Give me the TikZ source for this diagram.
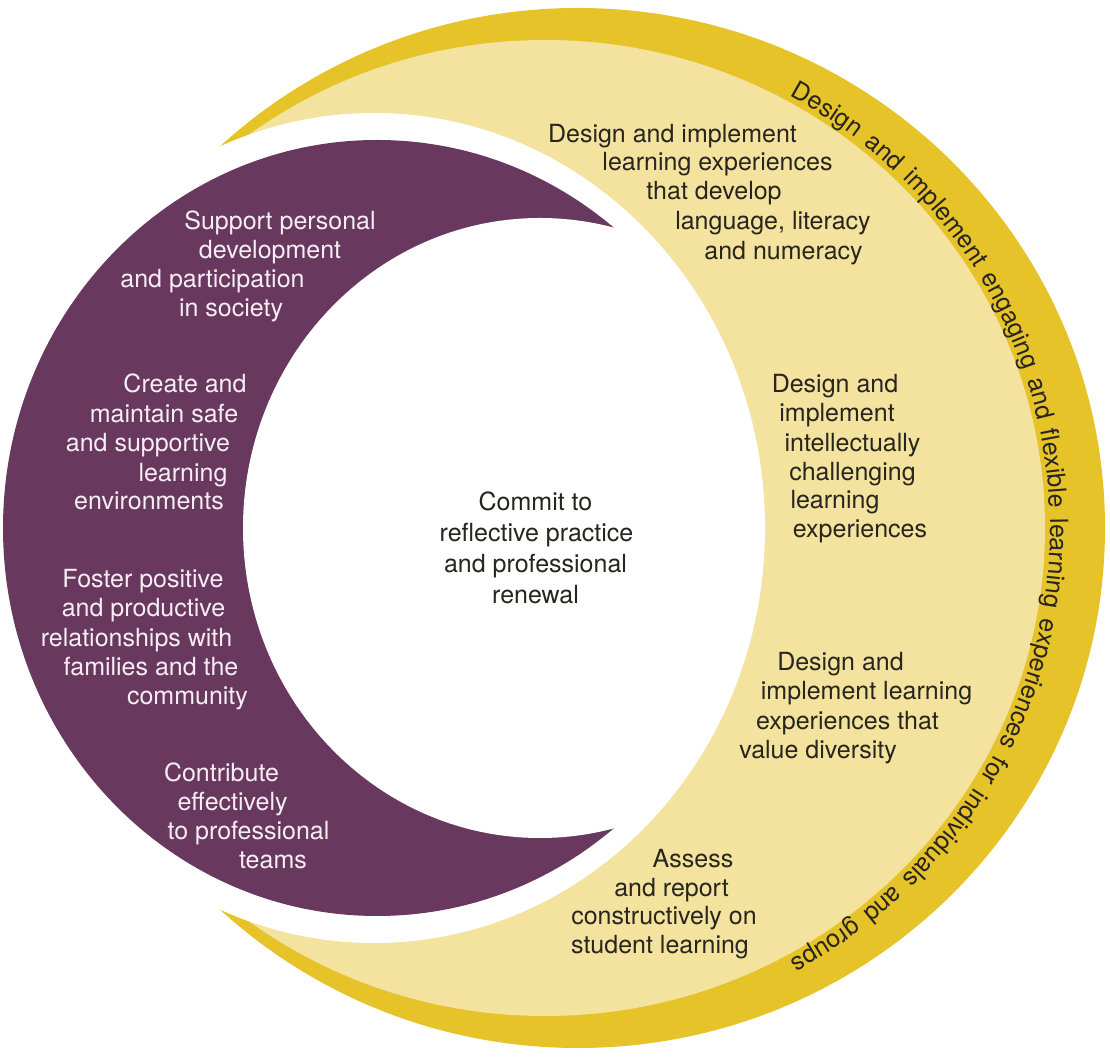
\documentclass[tikz,border=0pt]{standalone}
\usepackage{fontspec}
\setmainfont{TeX Gyre Heros}
\usetikzlibrary{decorations.text}

\definecolor{gold}{RGB}{230,195,40}
\definecolor{palegold}{RGB}{243,227,158}
\definecolor{plum}{RGB}{105,56,94}
\definecolor{ink}{RGB}{40,36,30}
\definecolor{plumtext}{RGB}{246,238,244}

\begin{document}
\begin{tikzpicture}[x=1pt,y=1pt,
  txt/.style={anchor=base, inner sep=0pt, font=\fontsize{25}{30}\selectfont},
  darktxt/.style={txt, text=ink},
  lighttxt/.style={txt, text=plumtext}]

\useasboundingbox (0,0) rectangle (1110,1057);

% outer gold crescent, pale band and the white disc that cuts both
\fill[gold] (578,529) ellipse[x radius=527, y radius=520];
\fill[palegold] (545,529) ellipse[x radius=500, y radius=488];
\fill[white] (374,529) ellipse[x radius=391, y radius=415];

% plum crescent on the left: plum disc with a white bite taken out
% (the bite is clipped a little wider than the disc so no plum rim is left)
\fill[plum] (377,529) ellipse[x radius=374, y radius=388];
\begin{scope}
  \clip (377,529) ellipse[x radius=377, y radius=391];
  \fill[white] (540,529) ellipse[x radius=297, y radius=310];
\end{scope}

% curved heading along the gold band
\coordinate (arcstart) at ({545+505*cos(61)},{529+494*sin(61)});
\path[decorate, decoration={text along path,
    text align={fit to path stretching spaces}, text color=ink,
    text={|\fontsize{25}{30}\selectfont|Design and implement engaging and flexible learning experiences for individuals and groups}}]
  (arcstart) arc[start angle=61, end angle=-61, x radius=505, y radius=494];

% left column, on plum
\foreach \x/\y/\t [count=\i] in {280/827/Support personal, 270/798/development,
    212.5/769/and participation, 231/740/in society}
  \node[lighttxt] (soc\i) at (\x,\y) {\t};
\foreach \x/\y/\t [count=\i] in {185/664/Create and, 164/634/maintain safe,
    148/605/and supportive, 183/575/learning, 149/547/environments}
  \node[lighttxt] (env\i) at (\x,\y) {\t};
\foreach \x/\y/\t [count=\i] in {143/469/Foster positive, 143.5/440/and productive,
    136.5/410/relationships with, 151/381/families and the, 187.5/352/community}
  \node[lighttxt] (fam\i) at (\x,\y) {\t};
\foreach \x/\y/\t [count=\i] in {221.5/275/Contribute, 232.5/246/effectively,
    248.5/217/to professional, 273/188/teams}
  \node[lighttxt] (team\i) at (\x,\y) {\t};

% centre
\foreach \x/\y/\t [count=\i] in {535.5/546/Commit to, 536.5/515/reflective practice,
    535.5/484/and professional, 535.5/453/renewal}
  \node[darktxt] (core\i) at (\x,\y) {\t};

% right column, on the pale band
\foreach \x/\y/\t [count=\i] in {672.5/914/Design and implement, 717.5/886/learning experiences,
    714/857/that develop, 773/827/{language, literacy}, 783.5/797/and numeracy}
  \node[darktxt] (lit\i) at (\x,\y) {\t};
\foreach \x/\y/\t [count=\i] in {835/664/Design and, 837/635/implement,
    852.5/605/intellectually, 852.5/576/challenging, 835/548/learning, 860/519/experiences}
  \node[darktxt] (chal\i) at (\x,\y) {\t};
\foreach \x/\y/\t [count=\i] in {840.5/386/Design and, 866.5/357/implement learning,
    847.5/327/experiences that, 818/298/value diversity}
  \node[darktxt] (div\i) at (\x,\y) {\t};
\foreach \x/\y/\t [count=\i] in {693/189/Assess, 671.5/160/and report,
    664/132/constructively on, 660/103/student learning}
  \node[darktxt] (rep\i) at (\x,\y) {\t};

\end{tikzpicture}
\end{document}
